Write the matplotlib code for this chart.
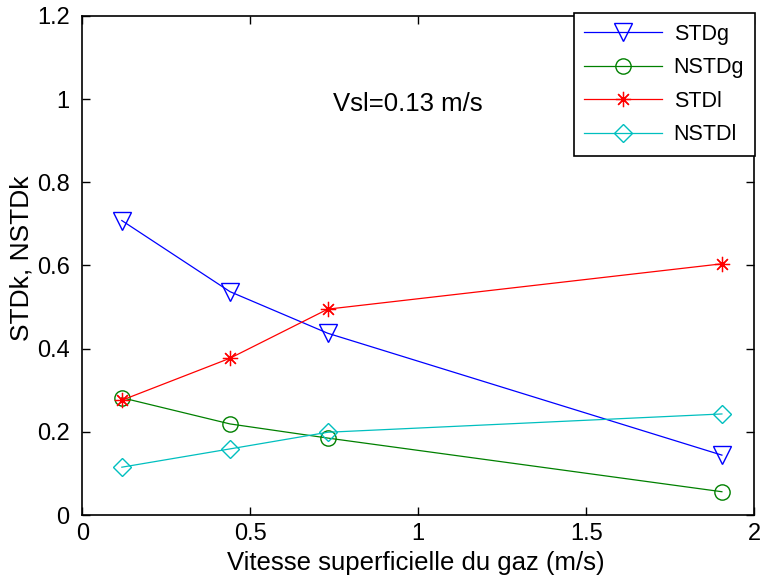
import matplotlib
matplotlib.use("Agg")
import matplotlib.pyplot as plt

# vitesse du gaz (m/s)
vsg = [0.118, 0.44, 0.731, 1.904]

std_g = [0.708, 0.537, 0.437, 0.144]
nstd_g = [0.282, 0.219, 0.185, 0.056]
std_l = [0.276, 0.377, 0.495, 0.604]
nstd_l = [0.115, 0.159, 0.199, 0.243]

plt.rcParams['font.family'] = ['Liberation Sans', 'DejaVu Sans']

fig = plt.figure(figsize=(7.61, 5.79), dpi=100)
ax = fig.add_axes([0.108, 0.1105, 0.883, 0.862])

ax.plot(vsg, std_g, color='blue', marker='v', markersize=13, markerfacecolor='none',
        linewidth=0.9, label='STDg')
ax.plot(vsg, nstd_g, color=(0, 0.5, 0), marker='o', markersize=11, markerfacecolor='none',
        linewidth=0.9, label='NSTDg')
ax.plot(vsg, std_l, color='red', marker=(8, 2, 0), markersize=11, markeredgewidth=0.9,
        linewidth=0.9, label='STDl')
ax.plot(vsg, nstd_l, color=(0, 0.75, 0.75), marker='D', markersize=9, markerfacecolor='none',
        linewidth=0.9, label='NSTDl')

ax.set_xlim(0, 2)
ax.set_ylim(0, 1.2)
ax.set_xticks([0, 0.5, 1, 1.5, 2])
ax.set_xticklabels(['0', '0.5', '1', '1.5', '2'])
ax.set_yticks([0, 0.2, 0.4, 0.6, 0.8, 1, 1.2])
ax.set_yticklabels(['0', '0.2', '0.4', '0.6', '0.8', '1', '1.2'])
ax.tick_params(direction='in', length=6, width=1, labelsize=17, top=True, right=True)
ax.tick_params(axis='y', pad=9)
ax.tick_params(axis='x', pad=6)
for s in ax.spines.values():
    s.set_linewidth(1.2)

ax.set_xlabel('Vitesse superficielle du gaz (m/s)', fontsize=18.5)
ax.xaxis.set_label_coords(0.497, -0.072)
ax.set_ylabel('STDk, NSTDk', fontsize=19)
ax.yaxis.set_label_coords(-0.072, 0.515)

ax.text(0.747, 0.988, 'Vsl=0.13 m/s', fontsize=18.5, va='center', ha='left')

leg = ax.legend(loc='upper right', bbox_to_anchor=(755/761, 1 - 13/579),
                bbox_transform=fig.transFigure, fontsize=15.5, frameon=True,
                fancybox=False, framealpha=1, edgecolor='black',
                handlelength=3.6, handletextpad=0.55, borderpad=0.5,
                labelspacing=0.58, borderaxespad=0)
leg.get_frame().set_linewidth(1.2)

fig.savefig('out.png', dpi=100)
